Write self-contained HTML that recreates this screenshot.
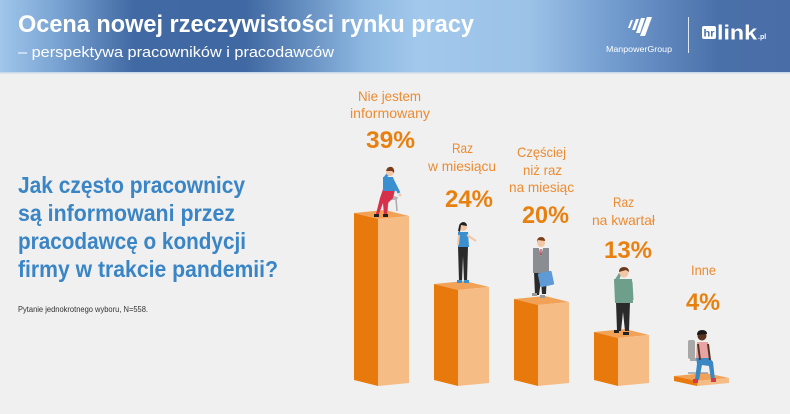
<!DOCTYPE html>
<html><head><meta charset="utf-8"><style>
html,body{margin:0;padding:0;background:#f0f0f0;}
svg{display:block;}
text{font-family:"Liberation Sans",sans-serif;}
</style></head><body>
<svg width="790" height="414" viewBox="0 0 790 414" xmlns="http://www.w3.org/2000/svg">
<defs>
<linearGradient id="hg" x1="0" y1="0" x2="1" y2="0">
<stop offset="0" stop-color="#a0c6ea"/>
<stop offset="0.07" stop-color="#7aa4d3"/>
<stop offset="0.17" stop-color="#4169a3"/>
<stop offset="0.31" stop-color="#4068a2"/>
<stop offset="0.46" stop-color="#8db7e1"/>
<stop offset="0.53" stop-color="#a2c9ec"/>
<stop offset="0.67" stop-color="#9bc2e7"/>
<stop offset="0.79" stop-color="#6e97cb"/>
<stop offset="0.91" stop-color="#4a70a9"/>
<stop offset="1" stop-color="#496ea7"/>
</linearGradient>
</defs>
<rect x="0" y="0" width="790" height="414" fill="#f0f0f0"/>
<rect x="0" y="0" width="790" height="72" fill="url(#hg)"/>
<rect x="0" y="72" width="790" height="1.5" fill="#c9d9ec"/>

<text x="18" y="32" font-size="24" font-weight="bold" fill="#fff" textLength="456" lengthAdjust="spacingAndGlyphs">Ocena nowej rzeczywistości rynku pracy</text>
<text x="18" y="57" font-size="15" fill="#fff" textLength="316" lengthAdjust="spacingAndGlyphs">– perspektywa pracowników i pracodawców</text>

<!-- Manpower logo -->
<g fill="#fff">
<polygon points="628,28 631,20 633,20 630,28"/>
<polygon points="632,30 636,19 639,19 635,30"/>
<polygon points="636,33 641,18 645,18 640,33"/>
<polygon points="640,36 647,17 652,17 645,36"/>
</g>
<text x="606" y="52" font-size="8.5" fill="#fff" textLength="66" lengthAdjust="spacingAndGlyphs">ManpowerGroup</text>
<rect x="688" y="17" width="1" height="36" fill="#dce8f5"/>
<rect x="702" y="26" width="14" height="13" rx="2" fill="#fff"/>
<text x="703.5" y="36.5" font-size="10" font-weight="bold" fill="#4a70a9" textLength="11" lengthAdjust="spacingAndGlyphs">hr</text>
<text x="717" y="39.5" font-size="20" font-weight="bold" fill="#fff" textLength="40" lengthAdjust="spacingAndGlyphs">link</text>
<text x="758" y="39" font-size="7" font-weight="bold" fill="#fff">.pl</text>

<!-- Question -->
<g font-size="23" font-weight="bold" fill="#3a85c5">
<text x="18" y="193" textLength="227" lengthAdjust="spacingAndGlyphs">Jak często pracownicy</text>
<text x="18" y="221" textLength="217" lengthAdjust="spacingAndGlyphs">są informowani przez</text>
<text x="18" y="249" textLength="228" lengthAdjust="spacingAndGlyphs">pracodawcę o kondycji</text>
<text x="18" y="277" textLength="260" lengthAdjust="spacingAndGlyphs">firmy w trakcie pandemii?</text>
</g>
<text x="18" y="312" font-size="8" fill="#333" textLength="130" lengthAdjust="spacingAndGlyphs">Pytanie jednokrotnego wyboru, N=558.</text>

<!-- Labels -->
<g font-size="14" fill="#ec8b30">
<text x="358" y="101" textLength="63" lengthAdjust="spacingAndGlyphs">Nie jestem</text>
<text x="350" y="118" textLength="80" lengthAdjust="spacingAndGlyphs">informowany</text>
<text x="452" y="153" textLength="21" lengthAdjust="spacingAndGlyphs">Raz</text>
<text x="428" y="171" textLength="68" lengthAdjust="spacingAndGlyphs">w miesiącu</text>
<text x="517" y="157" textLength="49" lengthAdjust="spacingAndGlyphs">Częściej</text>
<text x="523" y="175" textLength="39" lengthAdjust="spacingAndGlyphs">niż raz</text>
<text x="509" y="192" textLength="65" lengthAdjust="spacingAndGlyphs">na miesiąc</text>
<text x="613" y="207" textLength="21" lengthAdjust="spacingAndGlyphs">Raz</text>
<text x="592" y="225" textLength="63" lengthAdjust="spacingAndGlyphs">na kwartał</text>
<text x="691" y="275" textLength="25" lengthAdjust="spacingAndGlyphs">Inne</text>
</g>
<g font-size="24" font-weight="bold" fill="#e8800f">
<text x="366" y="148" textLength="49" lengthAdjust="spacingAndGlyphs">39%</text>
<text x="445" y="207" textLength="48" lengthAdjust="spacingAndGlyphs">24%</text>
<text x="522" y="223" textLength="47" lengthAdjust="spacingAndGlyphs">20%</text>
<text x="604" y="258" textLength="48" lengthAdjust="spacingAndGlyphs">13%</text>
<text x="686" y="310" textLength="34" lengthAdjust="spacingAndGlyphs">4%</text>
</g>

<!-- Bars -->
<polygon points="354,213 378,219 409,216 385,210" fill="#f2a256"/>
<polygon points="354,213 378,219 378,386 354,380" fill="#e8790d"/>
<polygon points="378,219 409,216 409,383 378,386" fill="#f6bc86"/>
<polygon points="434,284 458,290 489,287 465,281" fill="#f2a256"/>
<polygon points="434,284 458,290 458,386 434,380" fill="#e8790d"/>
<polygon points="458,290 489,287 489,383 458,386" fill="#f6bc86"/>
<polygon points="514,299 538,305 569,302 545,296" fill="#f2a256"/>
<polygon points="514,299 538,305 538,386 514,380" fill="#e8790d"/>
<polygon points="538,305 569,302 569,383 538,386" fill="#f6bc86"/>
<polygon points="594,332 618,338 649,335 625,329" fill="#f2a256"/>
<polygon points="594,332 618,338 618,386 594,380" fill="#e8790d"/>
<polygon points="618,338 649,335 649,383 618,386" fill="#f6bc86"/>
<polygon points="674,376 697,381 729,378 706,373" fill="#f2a256"/>
<polygon points="674,376 697,381 697,386 674,381" fill="#e8790d"/>
<polygon points="697,381 729,378 729,383 697,386" fill="#f6bc86"/>

<!-- Person 1 sitting on stool -->
<g>
<ellipse cx="392" cy="198" rx="6" ry="2" fill="#b3b3b3"/>
<line x1="388" y1="199" x2="387" y2="212" stroke="#a9a9a9" stroke-width="1.5"/>
<line x1="396" y1="199" x2="397" y2="211" stroke="#a9a9a9" stroke-width="1.5"/>
<polygon points="383,189 395,190 393,198 388,203 387,215 384,215 383,203 379,214 376,214 380,198" fill="#d6304a"/>
<polygon points="383,177 393,177 396,191 383,191" fill="#3a8fd0"/>
<line x1="392" y1="179" x2="399" y2="193" stroke="#3a8fd0" stroke-width="3"/>
<circle cx="400" cy="195" r="1.5" fill="#f3c7a5"/>
<line x1="384" y1="179" x2="388" y2="174" stroke="#3a8fd0" stroke-width="3"/>
<circle cx="390" cy="172" r="4" fill="#f3c7a5"/>
<path d="M386,171 Q387,166 392,167 Q395,169 394,173 L392,171 Z" fill="#7a3e1e"/>
<rect x="374" y="214" width="5" height="3" fill="#222"/>
<rect x="383" y="214" width="5" height="3" fill="#222"/>
</g>

<!-- Person 2 standing -->
<g>
<polygon points="458,246 468,246 467,281 464,281 463,256 462,281 459,281" fill="#2b2b2b"/>
<polygon points="458,232 468,232 469,247 458,247" fill="#3a8fd0"/>
<line x1="467" y1="235" x2="476" y2="241" stroke="#f3c7a5" stroke-width="2"/>
<line x1="459" y1="235" x2="458" y2="245" stroke="#f3c7a5" stroke-width="2"/>
<circle cx="463" cy="227" r="4" fill="#f3c7a5"/>
<path d="M459,226 Q460,222 464,222 Q467,223 467,226 L461,225 L460,232 L458,231 Z" fill="#222"/>
<rect x="457" y="280" width="5" height="3" fill="#3a8fd0"/>
<rect x="464" y="280" width="5" height="3" fill="#3a8fd0"/>
</g>

<!-- Person 3 man with briefcase -->
<g>
<polygon points="534,272 547,272 546,294 542,294 541,280 539,295 535,295" fill="#2a2a2a"/>
<polygon points="533,248 549,248 549,273 533,273" fill="#8a8d91"/>
<polygon points="539,248 543,248 541,256" fill="#fff"/>
<line x1="541" y1="249" x2="541" y2="255" stroke="#c62a3a" stroke-width="1.2"/>
<rect x="539" y="272" width="14" height="14" rx="1" fill="#5e9ad6" transform="rotate(-12 546 279)"/>
<circle cx="541" cy="243" r="4" fill="#f3c7a5"/>
<path d="M537,242 Q537,237 541,237 Q545,237 545,241 L538,240 Z" fill="#7a3e1e"/>
<rect x="532" y="293" width="5" height="3" fill="#9a9a9a"/>
<rect x="540" y="295" width="5" height="3" fill="#9a9a9a"/>
</g>

<!-- Person 4 green sweater -->
<g>
<polygon points="616,302 630,302 629,331 625,331 623,312 621,331 617,331" fill="#2a2a2a"/>
<polygon points="614,279 632,279 633,303 615,303" fill="#6e9e8c"/>
<polygon points="614,281 618,283 621,275 619,273" fill="#6e9e8c"/>
<line x1="631" y1="282" x2="632" y2="300" stroke="#6e9e8c" stroke-width="3"/>
<circle cx="624" cy="273" r="4.5" fill="#f3c7a5"/>
<path d="M619,272 Q619,267 624,267 Q629,267 629,272 L626,270 Z" fill="#6b3a1e"/>
<rect x="614" y="330" width="5" height="3" fill="#222"/>
<rect x="623" y="332" width="6" height="3" fill="#222"/>
</g>

<!-- Person 5 sitting on chair -->
<g>
<rect x="688" y="340" width="7" height="19" rx="2" fill="#a8a8a8"/>
<rect x="690" y="358" width="16" height="3" fill="#a8a8a8"/>
<line x1="698" y1="361" x2="698" y2="372" stroke="#a0a0a0" stroke-width="1.5"/>
<line x1="688" y1="373" x2="708" y2="373" stroke="#a0a0a0" stroke-width="1.5"/>
<polygon points="696,356 708,356 713,362 715,380 711,380 709,366 702,365 699,380 695,380 697,364" fill="#3b87c4"/>
<polygon points="697,342 708,342 709,358 696,358" fill="#e8a3a3"/>
<line x1="698" y1="344" x2="700" y2="360" stroke="#5a3420" stroke-width="2"/>
<line x1="708" y1="344" x2="710" y2="360" stroke="#5a3420" stroke-width="2"/>
<circle cx="702" cy="336" r="4.5" fill="#5a3420"/>
<path d="M697,335 Q697,330 702,330 Q707,330 707,334 Z" fill="#1a1a1a"/>
<rect x="693" y="379" width="5" height="4" fill="#d03a4a"/>
<rect x="711" y="378" width="5" height="4" fill="#d03a4a"/>
</g>
</svg>
</body></html>
